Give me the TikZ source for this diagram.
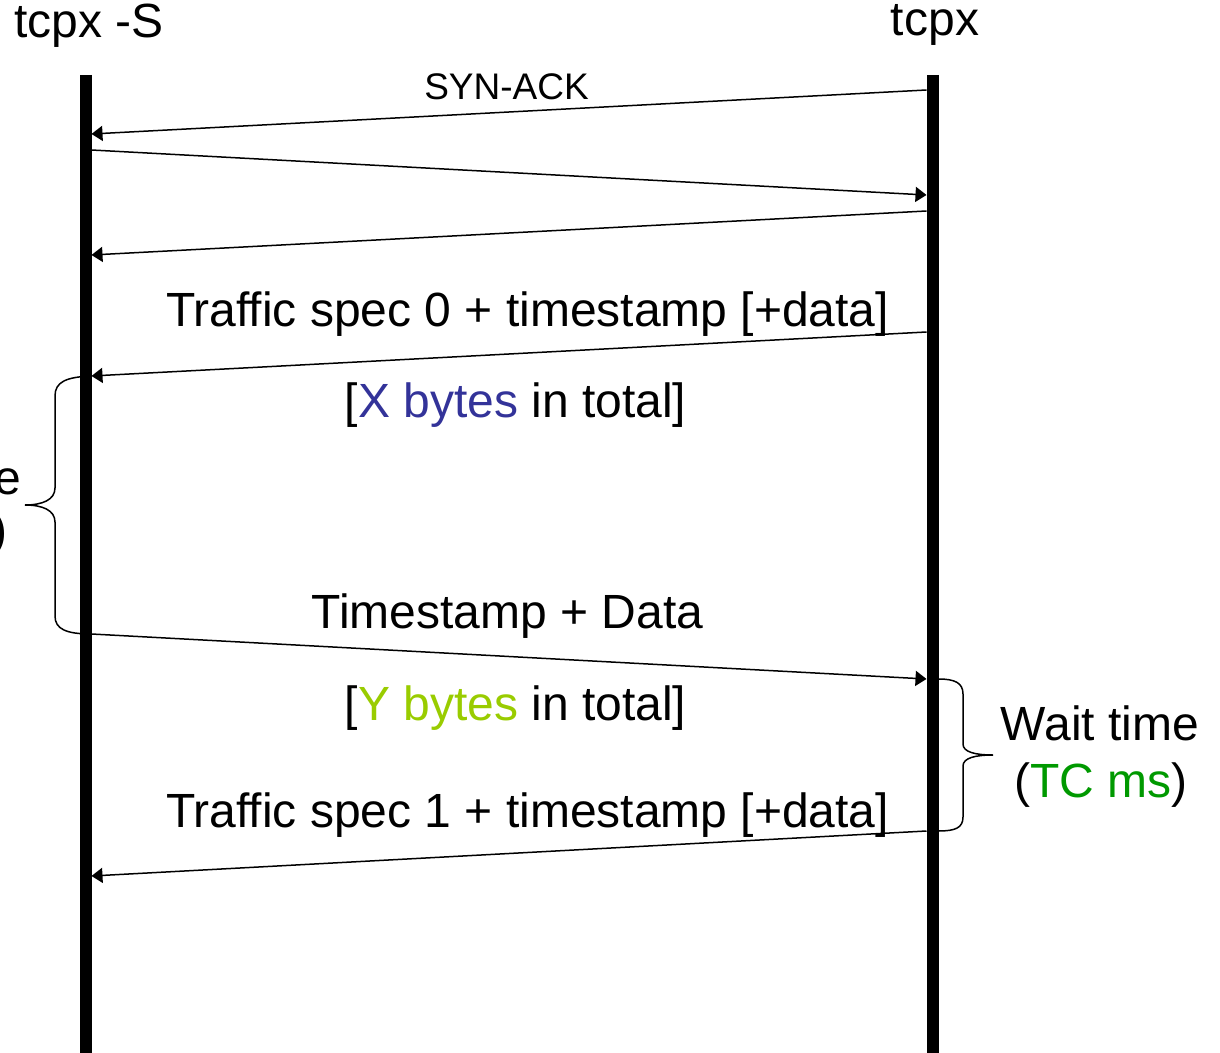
\documentclass[tikz,border=0pt]{standalone}
\usepackage{fontspec}
\setmainfont{Liberation Sans}
\usetikzlibrary{arrows.meta}
\definecolor{xblue}{HTML}{333399}
\definecolor{ygreen}{HTML}{99CC00}
\definecolor{tcgreen}{HTML}{009900}

\begin{document}
\begin{tikzpicture}[
  x=0.5pt, y=-0.5pt,
  lifeline/.style={line width=6pt, line cap=butt},
  msg/.style={line width=0.75pt, -{Triangle[length=5.5pt,width=7.5pt]}},
  bracepath/.style={line width=0.75pt},
  lbl/.style={anchor=base, inner sep=0pt, font=\fontsize{24}{28}\selectfont},
  smalllbl/.style={anchor=base, inner sep=0pt, font=\fontsize{18.5}{22}\selectfont},
  ]

\clip (0,0) rectangle (1220,1053);

% lifelines
\coordinate (sTop) at (85.5,75);
\coordinate (sBot) at (85.5,1060);
\coordinate (cTop) at (932.5,75);
\coordinate (cBot) at (932.5,1060);
\draw[lifeline] (sTop) -- (sBot);
\draw[lifeline] (cTop) -- (cBot);

\node[lbl] (srvname) at (89,38) {tcpx -S};
\node[lbl] (cltname) at (935,36) {tcpx};

% message end points
\coordinate (c1) at (926.5,90);  \coordinate (s1) at (91.5,134);
\coordinate (s2) at (91.5,150);  \coordinate (c2) at (926.5,195);
\coordinate (c3) at (926.5,211); \coordinate (s3) at (91.5,255);
\coordinate (c4) at (926.5,332); \coordinate (s4) at (91.5,376);
\coordinate (s5) at (91.5,634);  \coordinate (c5) at (926.5,679);
\coordinate (c6) at (926.5,831); \coordinate (s6) at (91.5,876);

\draw[msg] (c1) -- (s1);
\draw[msg] (s2) -- (c2);
\draw[msg] (c3) -- (s3);
\draw[msg] (c4) -- (s4);
\draw[msg] (s5) -- (c5);
\draw[msg] (c6) -- (s6);

\node[smalllbl] (synack) at (506.5,100) {SYN-ACK};
\node[lbl] (spec0) at (527.5,327) {Traffic spec 0 + timestamp [+data]};
\node[lbl] (xbytes) at (515.5,417) {[\textcolor{xblue}{X bytes} in total]};
\node[lbl] (tsdata) at (507.5,628) {Timestamp + Data};
\node[lbl] (ybytes) at (515.5,720) {[\textcolor{ygreen}{Y bytes} in total]};
\node[lbl] (spec1) at (527.5,827) {Traffic spec 1 + timestamp [+data]};

% braces
\draw[bracepath] (s4) .. controls (66,377) and (55,382) .. (55,396)
  -- (55,488) .. controls (55,500) and (42,505) .. (25,505)
  .. controls (42,505) and (55,510) .. (55,522)
  -- (55,616) .. controls (55,629) and (66,634) .. (s5);
\draw[bracepath] (938.5,679) .. controls (955,679) and (963,683) .. (963,694)
  -- (963,744) .. controls (963,752) and (975,755) .. (993,755)
  .. controls (975,755) and (963,758) .. (963,766)
  -- (963,817) .. controls (963,828) and (955,831) .. (938.5,831);

\node[lbl, anchor=base east] (lwait) at (22,494) {e};
\node[lbl, anchor=base east] (lms) at (7.5,546) {)};
\node[lbl] (wait) at (1100,740) {Wait time};
\node[lbl] (tcms) at (1101,797) {(\textcolor{tcgreen}{TC ms})};

\end{tikzpicture}
\end{document}
